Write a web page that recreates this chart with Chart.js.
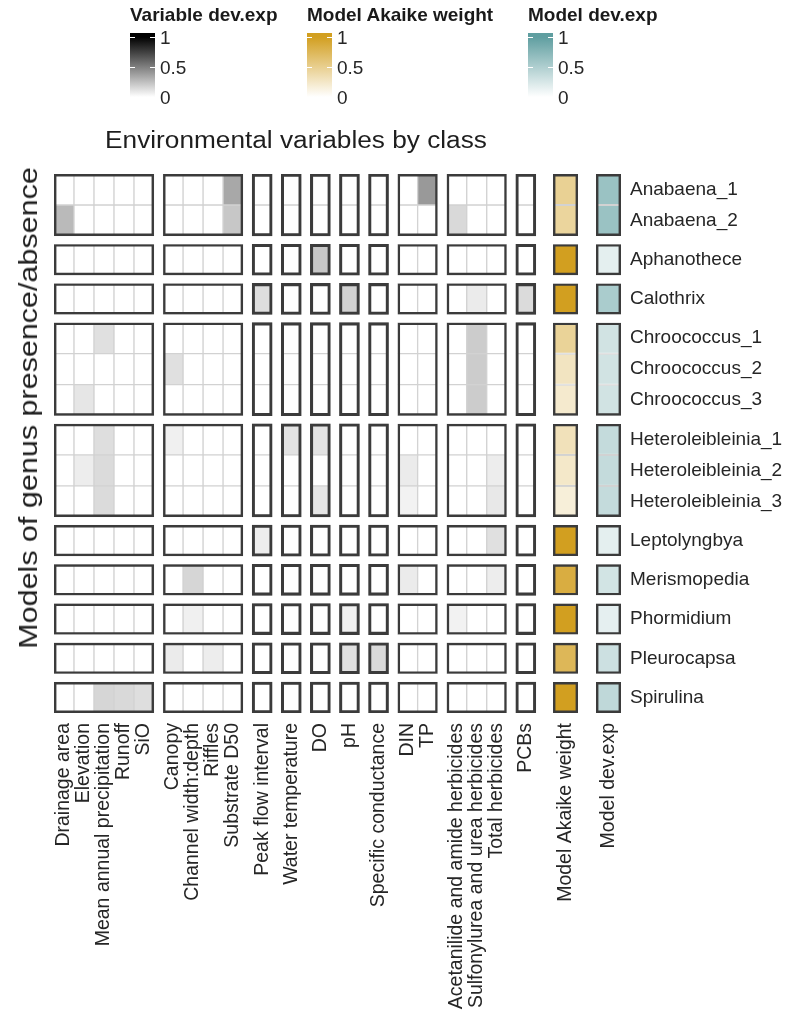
<!DOCTYPE html>
<html>
<head>
<meta charset="utf-8">
<script src="https://cdn.jsdelivr.net/npm/chart.js@4.4.1/dist/chart.umd.min.js"></script>
<style>
  html, body { margin: 0; padding: 0; background: #ffffff; }
  #wrap { position: relative; width: 789px; height: 1014px; overflow: hidden;
          font-family: "Liberation Sans", Arial, Helvetica, sans-serif; color: #1e1e1e; }
  #heat { position: absolute; left: 0; top: 0; }
  .lg-title { position: absolute; font-weight: bold; font-size: 19px; line-height: 19px; white-space: nowrap; color: #1a1a1a; }
  .lg-bar { position: absolute; width: 25px; height: 68px; }
  .lg-tick { position: absolute; width: 5px; height: 1px; background: #ffffff; }
  .lg-lab { position: absolute; font-size: 19px; line-height: 19px; white-space: nowrap; color: #262626; }
  #top-title { position: absolute; left: 0; width: 592px; text-align: center; font-size: 23px; line-height: 23px; white-space: nowrap;
               color: #1e1e1e; transform: scaleX(1.14); transform-origin: 296px 50%; }
  #y-title { position: absolute; width: 560px; height: 30px; line-height: 30px; text-align: center; font-size: 25px;
             white-space: nowrap; color: #1e1e1e; transform: rotate(-90deg) scaleX(1.22); }
</style>
</head>
<body>
<div id="wrap">
  <canvas id="heat" width="789" height="1014"></canvas>
  <div id="top-title">Environmental variables by class</div>
  <div id="y-title">Models of genus presence/absence</div>
</div>
<script>
// ---- data -------------------------------------------------------------
const variables = [
  'Drainage area', 'Elevation', 'Mean annual precipitation', 'Runoff', 'SiO',
  'Canopy', 'Channel width:depth', 'Riffles', 'Substrate D50',
  'Peak flow interval',
  'Water temperature',
  'DO',
  'pH',
  'Specific conductance',
  'DIN', 'TP',
  'Acetanilide and amide herbicides', 'Sulfonylurea and urea herbicides', 'Total herbicides',
  'PCBs'
];
// number of variables in each class, in the order above
const variableClassSizes = [5, 4, 1, 1, 1, 1, 1, 2, 3, 1];

const models = [
  'Anabaena_1', 'Anabaena_2', 'Aphanothece', 'Calothrix',
  'Chroococcus_1', 'Chroococcus_2', 'Chroococcus_3',
  'Heteroleibleinia_1', 'Heteroleibleinia_2', 'Heteroleibleinia_3',
  'Leptolyngbya', 'Merismopedia', 'Phormidium', 'Pleurocapsa', 'Spirulina'
];
// number of models per genus, in the order above
const genusSizes = [2, 1, 1, 3, 3, 1, 1, 1, 1, 1];

// deviance explained by each variable, one row per model
const varDevExp = [
  [0,    0,    0,    0,    0,    0,    0,    0,    0.34, 0,    0,    0,    0,    0,    0,    0.40, 0,    0,    0,    0   ],
  [0.27, 0,    0,    0,    0,    0,    0,    0,    0.22, 0,    0,    0,    0,    0,    0,    0,    0.15, 0,    0,    0   ],
  [0,    0,    0,    0,    0,    0,    0,    0,    0,    0,    0,    0.22, 0,    0,    0,    0,    0,    0,    0,    0   ],
  [0,    0,    0,    0,    0,    0,    0,    0,    0,    0.13, 0,    0,    0.18, 0,    0,    0,    0,    0.08, 0,    0.14],
  [0,    0,    0.12, 0,    0,    0,    0,    0,    0,    0,    0,    0,    0,    0,    0,    0,    0,    0.20, 0,    0   ],
  [0,    0,    0,    0,    0,    0.12, 0,    0,    0,    0,    0,    0,    0,    0,    0,    0,    0,    0.20, 0,    0   ],
  [0,    0.10, 0,    0,    0,    0,    0,    0,    0,    0,    0,    0,    0,    0,    0,    0,    0,    0.20, 0,    0   ],
  [0,    0,    0.13, 0,    0,    0.06, 0,    0,    0,    0,    0.11, 0.11, 0,    0,    0,    0,    0,    0,    0,    0   ],
  [0,    0.07, 0.14, 0,    0,    0,    0,    0,    0,    0,    0,    0,    0,    0,    0.08, 0,    0,    0,    0.07, 0   ],
  [0,    0,    0.14, 0,    0,    0,    0,    0,    0,    0,    0,    0.10, 0,    0,    0.05, 0,    0,    0,    0.09, 0   ],
  [0,    0,    0,    0,    0,    0,    0,    0,    0,    0.07, 0,    0,    0,    0,    0,    0,    0,    0,    0.12, 0   ],
  [0,    0,    0,    0,    0,    0,    0.16, 0,    0,    0,    0,    0,    0,    0,    0.08, 0,    0,    0,    0.07, 0   ],
  [0,    0,    0,    0,    0,    0,    0.06, 0,    0,    0,    0,    0,    0.06, 0,    0,    0,    0.05, 0,    0,    0   ],
  [0,    0,    0,    0,    0,    0.08, 0,    0.07, 0,    0,    0,    0,    0.12, 0.15, 0,    0,    0,    0,    0,    0   ],
  [0,    0,    0.16, 0.15, 0.13, 0,    0,    0,    0,    0,    0,    0,    0,    0,    0,    0,    0,    0,    0,    0   ]
];
const akaikeWeight = [0.48, 0.44, 1, 1, 0.46, 0.28, 0.22, 0.31, 0.24, 0.17, 1, 0.85, 1, 0.75, 1];
const modelDevExp  = [0.63, 0.63, 0.17, 0.53, 0.29, 0.29, 0.29, 0.37, 0.37, 0.37, 0.17, 0.28, 0.16, 0.32, 0.40];

const modelColumns = ['Model Akaike weight', 'Model dev.exp'];
const legendTicks = [0, 0.5, 1];
const legendTickLabels = ['0', '0.5', '1'];

// ---- colour scales ----------------------------------------------------
const VAR_RGB = [0, 0, 0];
const AKAIKE_RGB = [210, 159, 32];
const DEV_RGB = [95, 158, 160];
function ramp(rgb, v) {
  const c = rgb.map(ch => Math.round(255 + (ch - 255) * v));
  return `rgb(${c[0]},${c[1]},${c[2]})`;
}

// ---- layout in data units (1 unit = one cell) -------------------------
const COL_GAP = 0.455, MODEL_GAP_1 = 0.86, MODEL_GAP_2 = 0.9, MODEL_W = 1.25, ROW_GAP = 0.265;

const colCenters = [], classSpans = [];
let xpos = 0;
variableClassSizes.forEach((n, k) => {
  classSpans.push({ center: xpos + n / 2, n });
  for (let j = 0; j < n; j++) colCenters.push(xpos + j + 0.5);
  xpos += n;
  if (k < variableClassSizes.length - 1) xpos += COL_GAP;
});
const akaikeX = xpos + MODEL_GAP_1 + MODEL_W / 2;
const devX = akaikeX + MODEL_W + MODEL_GAP_2;
const xMax = devX + MODEL_W / 2;

const rowTop = [], genusSpans = [];
let ypos = 0;
genusSizes.forEach((n, k) => {
  genusSpans.push({ top: ypos, bottom: ypos + n });
  for (let i = 0; i < n; i++) rowTop.push(ypos + i);
  ypos += n;
  if (k < genusSizes.length - 1) ypos += ROW_GAP;
});
const yMax = ypos;

const axisTicks = colCenters.concat([akaikeX, devX]);
const axisLabels = variables.concat(modelColumns);

// ---- datasets ---------------------------------------------------------
const CELL_BORDER = '#d2d2d2';
const PANEL_BORDER = '#3b3b3b';
const cellCommon = {
  xAxisID: 'x', yAxisID: 'y', grouped: false, categoryPercentage: 1,
  borderColor: CELL_BORDER, borderWidth: 1, borderSkipped: false, order: 2
};

const datasets = [];
models.forEach((m, r) => {
  datasets.push(Object.assign({}, cellCommon, {
    label: m,
    barPercentage: 1,
    data: colCenters.map(x => ({ x, y: [rowTop[r], rowTop[r] + 1] })),
    backgroundColor: varDevExp[r].map(v => ramp(VAR_RGB, v))
  }));
});
datasets.push(Object.assign({}, cellCommon, {
  label: modelColumns[0],
  barPercentage: MODEL_W,
  data: models.map((m, r) => ({ x: akaikeX, y: [rowTop[r], rowTop[r] + 1] })),
  backgroundColor: akaikeWeight.map(v => ramp(AKAIKE_RGB, v))
}));
datasets.push(Object.assign({}, cellCommon, {
  label: modelColumns[1],
  barPercentage: MODEL_W,
  data: models.map((m, r) => ({ x: devX, y: [rowTop[r], rowTop[r] + 1] })),
  backgroundColor: modelDevExp.map(v => ramp(DEV_RGB, v))
}));

// panel outlines: one box per variable class and genus
const panelCommon = {
  xAxisID: 'xp', yAxisID: 'y', grouped: false, categoryPercentage: 1,
  backgroundColor: 'rgba(0,0,0,0)', borderColor: PANEL_BORDER, borderWidth: 2.4,
  borderSkipped: false, order: 1
};
classSpans.concat([{ center: akaikeX, n: MODEL_W }, { center: devX, n: MODEL_W }]).forEach((span, k) => {
  datasets.push(Object.assign({}, panelCommon, {
    label: 'panel ' + k,
    barPercentage: span.n,
    data: genusSpans.map(g => ({ x: span.center, y: [g.top, g.bottom] }))
  }));
});

// ---- chart ------------------------------------------------------------
const FONT = "'Liberation Sans', Arial, Helvetica, sans-serif";
new Chart(document.getElementById('heat'), {
  type: 'bar',
  data: { datasets },
  options: {
    responsive: false,
    animation: false,
    devicePixelRatio: 1,
    layout: { padding: { left: 54, top: 174, right: 0, bottom: 0 } },
    plugins: { legend: { display: false }, tooltip: { enabled: false }, title: { display: false } },
    scales: {
      x: {
        type: 'linear', position: 'bottom', min: 0, max: xMax, offset: false,
        grid: { display: false, drawTicks: false, offset: false }, border: { display: false },
        afterBuildTicks: s => { s.ticks = axisTicks.map(v => ({ value: v })); },
        afterFit: s => { s.height = 301; },
        ticks: {
          autoSkip: false, minRotation: 90, maxRotation: 90, padding: 10,
          color: '#262626', font: { family: FONT, size: 19.5 },
          callback: (v, i) => axisLabels[i]
        }
      },
      xp: {
        type: 'linear', display: false, min: 0, max: xMax, offset: false,
        afterBuildTicks: s => { s.ticks = [{ value: 0 }, { value: 1 }]; }
      },
      y: {
        type: 'linear', position: 'right', reverse: true, min: 0, max: yMax,
        grid: { display: false, drawTicks: false }, border: { display: false },
        afterBuildTicks: s => { s.ticks = rowTop.map(t => ({ value: t + 0.5 })); },
        afterFit: s => { s.width = 168; },
        ticks: {
          autoSkip: false, padding: 9, color: '#262626', font: { family: FONT, size: 19 },
          callback: (v, i) => models[i]
        }
      }
    }
  }
});

// ---- colour bar legends -----------------------------------------------
const wrapEl = document.getElementById('wrap');
const legends = [
  { title: 'Variable dev.exp', rgb: VAR_RGB, left: 130 },
  { title: 'Model Akaike weight', rgb: AKAIKE_RGB, left: 307 },
  { title: 'Model dev.exp', rgb: DEV_RGB, left: 528 }
];
const BAR_TOP = 33, TICK_Y0 = 97, TICK_SPAN = 60;
function addBox(cls, css, text) {
  const d = document.createElement('div');
  d.className = cls;
  Object.assign(d.style, css);
  if (text !== undefined) d.textContent = text;
  wrapEl.appendChild(d);
  return d;
}
legends.forEach(lg => {
  addBox('lg-title', { left: lg.left + 'px', top: '5px' }, lg.title);
  addBox('lg-bar', {
    left: lg.left + 'px', top: BAR_TOP + 'px',
    background: `linear-gradient(to bottom, ${ramp(lg.rgb, 1)} 0px, ${ramp(lg.rgb, 1)} 4px, ${ramp(lg.rgb, 0)} 64px, ${ramp(lg.rgb, 0)} 68px)`
  });
  legendTicks.forEach((t, i) => {
    const y = TICK_Y0 - TICK_SPAN * t;
    addBox('lg-tick', { left: lg.left + 'px', top: (y - 0.5) + 'px' });
    addBox('lg-tick', { left: (lg.left + 20) + 'px', top: (y - 0.5) + 'px' });
    addBox('lg-lab', { left: (lg.left + 30) + 'px', top: (y - 9.5) + 'px' }, legendTickLabels[i]);
  });
});

// titles
document.getElementById('top-title').style.top = '129px';
const yTitle = document.getElementById('y-title');
yTitle.style.left = (28 - 280) + 'px';
yTitle.style.top = (408 - 15) + 'px';
</script>
</body>
</html>
